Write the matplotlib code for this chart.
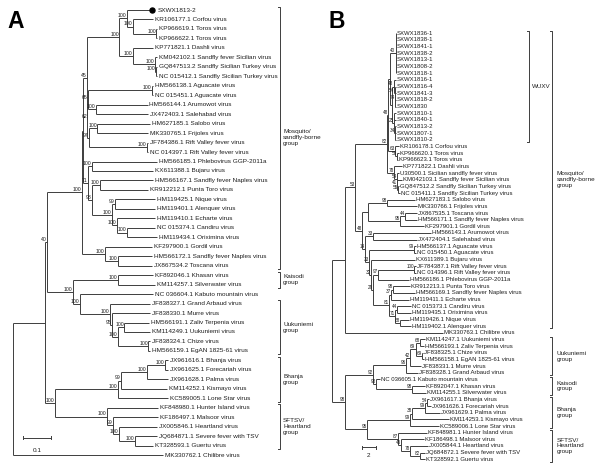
import matplotlib
matplotlib.use("Agg")
import matplotlib.pyplot as plt
from matplotlib.collections import LineCollection

plt.rcParams['font.family'] = ['Liberation Sans', 'DejaVu Sans']

# ----------------------------- Panel A data -----------------------------
A_leaves = [
    "SXWX1813-2", "KR106177.1 Corfou virus", "KP966619.1 Toros virus", "KP966622.1 Toros virus",
    "KP771821.1 Dashli virus", "KM042102.1 Sandfly fever Sicilian virus",
    "GQ847513.2 Sandfly Sicilian Turkey virus", "NC 015412.1 Sandfly Sicilian Turkey virus",
    "HM566138.1 Aguacate virus", "NC 015451.1 Aguacate virus", "HM566144.1 Arumowot virus",
    "JX472403.1 Salehabad virus", "HM627185.1 Salobo virus", "MK330765.1 Frijoles virus",
    "JF784386.1 Rift Valley fever virus", "NC 014397.1 Rift Valley fever virus",
    "HM566185.1 Phlebovirus GGP-2011a", "KX611388.1 Bujaru virus",
    "HM566167.1 Sandfly fever Naples virus", "KR912212.1 Punta Toro virus",
    "HM119425.1 Nique virus", "HM119401.1 Alenquer virus", "HM119410.1 Echarte virus",
    "NC 015374.1 Candiru virus", "HM119434.1 Oriximina virus", "KF297900.1 Gordil virus",
    "HM566172.1 Sandfly fever Naples virus", "JX867534.2 Toscana virus",
    "KF892046.1 Khasan virus", "KM114257.1 Silverwater virus", "NC 036604.1 Kabuto mountain virus",
    "JF838327.1 Grand Arbaud virus", "JF838330.1 Murre virus", "HM566191.1 Zaliv Terpenia virus",
    "KM114249.1 Uukuniemi virus", "JF838324.1 Chize virus", "HM566159.1 EgAN 1825-61 virus",
    "JX961616.1 Bhanja virus", "JX961625.1 Forecariah virus", "JX961628.1 Palma virus",
    "KM114252.1 Kismayo virus", "KC589005.1 Lone Star virus", "KF848980.1 Hunter Island virus",
    "KF186497.1 Malsoor virus", "JX005846.1 Heartland virus", "JQ684871.1 Severe fever with TSV",
    "KT328593.1 Guertu virus", "MK330762.1 Chilibre virus",
]
A_tip_depth = [
    0.489, 0.492, 0.508, 0.508, 0.492, 0.508, 0.508, 0.508, 0.494, 0.494,
    0.473, 0.475, 0.482, 0.475, 0.476, 0.476, 0.505, 0.492, 0.492, 0.475,
    0.499, 0.499, 0.499, 0.499, 0.505, 0.489, 0.489, 0.489, 0.492, 0.499,
    0.492, 0.482, 0.482, 0.478, 0.482, 0.482, 0.482, 0.545, 0.545, 0.545,
    0.541, 0.545, 0.510, 0.510, 0.506, 0.506, 0.492, 0.527,
]
# internal node = (depth, bootstrap, [children]); int = leaf index
A_tree = (0.0, "", [
    (0.113, "", [
        (0.119, "40", [
            (0.242, "100", [
                (0.248, "", [
                    (0.260, "45", [
                        (0.374, "100", [
                            (0.400, "100", [0, (0.421, "100", [1, (0.503, "100", [2, 3])])]),
                            (0.421, "100", [4, (0.499, "100", [5, (0.502, "100", [6, 7])])]),
                        ]),
                        (0.262, "62", [
                            (0.264, "65", [(0.488, "100", [8, 9]), (0.292, "100", [10, 11])]),
                            (0.266, "97", [(0.296, "100", [12, 13]), (0.470, "100", [14, 15])]),
                        ]),
                    ]),
                    (0.264, "71", [
                        (0.277, "100", [16, 17]),
                        (0.278, "98", [
                            (0.306, "100", [18, 19]),
                            (0.348, "100", [(0.359, "99", [20, 21]),
                                            (0.365, "100", [22, (0.400, "100", [23, 24])])]),
                        ]),
                    ]),
                ]),
                (0.324, "100", [25, (0.369, "100", [26, 27])]),
            ]),
            (0.211, "100", [
                (0.369, "100", [28, 29]),
                (0.236, "100", [30, (0.341, "100", [31, (0.348, "95", [32, (0.369, "100", [
                    (0.391, "100", [33, 34]), (0.475, "100", [35, 36])])])])]),
            ]),
        ]),
        (0.148, "100", [
            (0.369, "100", [(0.379, "99", [(0.471, "100", [(0.534, "100", [37, 38]), 39]), 40]), 41]),
            (0.331, "100", [42, (0.352, "99", [43, (0.373, "100", [44, (0.429, "100", [45, 46])])])]),
        ]),
    ]),
    47,
])
A_groups = [("Mosquito/\nsandfly-borne\ngroup", 0, 27), ("Kaisodi\ngroup", 28, 29),
            ("Uukuniemi\ngroup", 31, 36), ("Bhanja\ngroup", 37, 41),
            ("SFTSV/\nHeartland\ngroup", 42, 46)]
A_marked = [0]
A_scale = 0.1

# ----------------------------- Panel B data -----------------------------
B_leaves = [
    "SXWX1836-1", "SXWX1838-1", "SXWX1841-1", "SXWX1838-2", "SXWX1813-1", "SXWX1808-2",
    "SXWX1818-1", "SXWX1816-1", "SXWX1816-4", "SXWX1841-3", "SXWX1818-2", "SXWX1830",
    "SXWX1810-1", "SXWX1840-1", "SXWX1813-2", "SXWX1807-1", "SXWX1810-2",
    "KR106178.1 Corfou virus", "KP966620.1 Toros virus", "KP966623.1 Toros virus",
    "KP771822.1 Dashli virus", "U30500.1 Sicilian sandfly fever virus",
    "KM042103.1 Sandfly fever Sicilian virus", "GQ847512.2 Sandfly Sicilian Turkey virus",
    "NC 015411.1 Sandfly Sicilian Turkey virus", "HM627183.1 Salobo virus",
    "MK330766.1 Frijoles virus", "JX867535.1 Toscana virus",
    "HM566171.1 Sandfly fever Naples virus", "KF297901.1 Gordil virus",
    "HM566143.1 Arumowot virus", "JX472404.1 Salehabad virus", "HM566137.1 Aguacate virus",
    "NC 015450.1 Aguacate virus", "KX611389.1 Bujaru virus", "JF784387.1 Rift Valley fever virus",
    "NC 014396.1 Rift Valley fever virus", "HM566186.1 Phlebovirus GGP-2011a",
    "KR912213.1 Punta Toro virus", "HM566169.1 Sandfly fever Naples virus",
    "HM119411.1 Echarte virus", "NC 015373.1 Candiru virus", "HM119435.1 Oriximina virus",
    "HM119426.1 Nique virus", "HM119402.1 Alenquer virus", "MK330763.1 Chilibre virus",
    "KM114247.1 Uukuniemi virus", "HM566193.1 Zaliv Terpenia virus", "JF838325.1 Chize virus",
    "HM566158.1 EgAN 1825-61 virus", "JF838331.1 Murre virus", "JF838328.1 Grand Arbaud virus",
    "NC 036605.1 Kabuto mountain virus", "KF892047.1 Khasan virus",
    "KM114255.1 Silverwater virus", "JX961617.1 Bhanja virus", "JX961626.1 Forecariah virus",
    "JX961629.1 Palma virus", "KM114253.1 Kismayo virus", "KC589006.1 Lone Star virus",
    "KF848981.1 Hunter Island virus", "KF186498.1 Malsoor virus", "JX005844.1 Heartland virus",
    "JQ684872.1 Severe fever with TSV", "KT328592.1 Guertu virus",
]
B_tip_depth = [
    8.97, 8.97, 8.97, 8.97, 8.97, 8.97, 8.97, 8.97, 8.97, 8.97, 8.97, 8.97, 8.97, 8.97,
    8.97, 8.97, 8.97, 9.39, 9.32, 9.18, 9.80, 9.39, 9.80, 9.32, 9.46,
    11.62, 11.90, 11.90, 11.90, 12.87, 13.85, 11.90, 11.76, 11.76, 11.62,
    11.69, 11.69, 10.78, 10.92, 11.62, 10.78, 11.06, 11.06, 10.78, 11.06,
    15.52, 13.01, 12.87, 12.73, 12.87, 12.46, 12.04, 6.74, 13.01, 13.15,
    13.57, 13.85, 15.10, 16.36, 14.96, 13.29, 12.87, 13.43, 13.01, 13.01,
]
B_tree = (0.0, "", [
    (1.85, "", [
        (3.25, "53", [
            (7.71, "82", [
                (7.85, "48", [
                    (8.13, "", [
                        (8.90, "40", [0, 1, 2, 3, 4, 5, 6]),
                        (8.41, "", [
                            (8.62, "48", [7, (8.76, "54", [8, (8.83, "74", [9, 10, 11])])]),
                            (8.69, "25", [12, 13, (8.83, "34", [14, 15, 16])]),
                        ]),
                    ]),
                    (8.83, "63", [17, (9.11, "56", [18, 19])]),
                ]),
                (8.69, "78", [20, (9.11, "54", [21, (9.15, "41", [22, (9.25, "55", [23, 24])])])]),
            ]),
            (4.23, "48", [
                (5.06, "", [(7.71, "98", [25, 26]),
                            (9.53, "95", [(10.22, "44", [27, 28]), 29])]),
                (4.64, "14", [
                    (5.76, "33", [30, 31]),
                    (5.20, "33", [
                        (11.48, "99", [32, 33]),
                        (5.48, "32", [
                            34,
                            (5.76, "29", [
                                (6.46, "97", [(11.48, "100", [35, 36]), 37]),
                                (7.99, "81", [
                                    (8.27, "37", [(8.55, "98", [38, 39]), 40]),
                                    (8.83, "71", [(9.11, "44", [41, 42]), (9.53, "68", [43, 44])]),
                                ]),
                            ]),
                        ]),
                    ]),
                ]),
            ]),
        ]),
        45,
    ]),
    (1.85, "98", [
        (5.76, "92", [
            (10.36, "96", [(10.92, "42", [(11.72, "69", [(12.32, "68", [46, 47]),
                                                       (12.59, "69", [48, 49])]), 50]), 51]),
            (6.18, "98", [52, (11.20, "98", [53, 54])]),
        ]),
        (4.92, "95", [
            (10.92, "99", [(11.20, "38", [(13.01, "99", [(13.29, "54", [55, 56]), 57]), 58]), 59]),
            (9.25, "87", [60, (9.67, "45", [61, (10.92, "78", [62, (12.32, "82", [63, 64])])])]),
        ]),
    ]),
])
B_groups = [("Mosquito/\nsandfly-borne\ngroup", 0, 44), ("Uukuniemi\ngroup", 46, 51),
            ("Kaisodi\ngroup", 52, 54), ("Bhanja\ngroup", 55, 59),
            ("SFTSV/\nHeartland\ngroup", 60, 64)]
B_sub_groups = [("WUXV", 0, 16)]
B_scale = 2

# ----------------------------- drawing -----------------------------
LINE = '#3d3d3d'
TXT = '#1e1e1e'
W, H = 600, 465

fig = plt.figure(figsize=(6, 4.65), dpi=100)


def make_axes(x0, ppu, y0, dy):
    ax = fig.add_axes([0, 0, 1, 1])
    ax.set_facecolor('none')
    ax.axis('off')
    ax.set_xlim(-x0 / ppu, (W - x0) / ppu)
    ax.set_ylim((H - y0) / dy, -y0 / dy)
    return ax


def layout(node, tips, segs, labels):
    if isinstance(node, int):
        return tips[node], float(node)
    depth, sup, kids = node
    ys = []
    for k in kids:
        kd, ky = layout(k, tips, segs, labels)
        segs.append([(depth, ky), (kd, ky)])
        ys.append(ky)
    y = (ys[0] + ys[-1]) / 2.0
    segs.append([(depth, ys[0]), (depth, ys[-1])])
    if sup:
        labels.append((depth, y, sup))
    return depth, y


def draw_tree(ax, tree, names, tips, leaf_fs, sup_fs, txt_off, marked=()):
    segs, labels = [], []
    layout(tree, tips, segs, labels)
    ax.add_collection(LineCollection(segs, colors=LINE, linewidths=0.7))
    for i, (nm, d) in enumerate(zip(names, tips)):
        off = txt_off
        if i in marked:
            ax.plot([d], [i], 'o', color='black', ms=3.6, zorder=3)
            off = txt_off + 3.0
        ax.annotate(nm, xy=(d, i), xytext=(off, 0), textcoords='offset points',
                    ha='left', va='center', fontsize=leaf_fs, color=TXT)
    for d, y, s in labels:
        ax.annotate(s, xy=(d, y), xytext=(-0.2, 0.1), textcoords='offset points',
                    ha='right', va='bottom', fontsize=sup_fs, color=TXT)


def bracket(ax, x, i0, i1, pad, tick, text, tx, fs, ls=1.25):
    y0, y1 = i0 - pad, i1 + pad
    ax.plot([x - tick, x, x, x - tick], [y0, y0, y1, y1], color=LINE, lw=0.7)
    ax.text(tx, (y0 + y1) / 2.0, text, ha='left', va='center', fontsize=fs,
            color=TXT, linespacing=ls)


# ---- Panel A ----
A_x0, A_ppu, A_y0, A_dy = 12.7, 285.0, 10.0, 9.47
axA = make_axes(A_x0, A_ppu, A_y0, A_dy)
draw_tree(axA, A_tree, A_leaves, A_tip_depth, 4.6, 3.7, 1.4, marked=A_marked)
for txt, i0, i1 in A_groups:
    bracket(axA, (280 - A_x0) / A_ppu, i0, i1, 0.35, 2 / A_ppu, txt,
            (283 - A_x0) / A_ppu, 4.6)
sbx = (22.7 - A_x0) / A_ppu
sby = (437.7 - A_y0) / A_dy
axA.plot([sbx, sbx + A_scale], [sby, sby], color=LINE, lw=0.7)
for xx in (sbx, sbx + A_scale):
    axA.plot([xx, xx], [sby - 0.15, sby + 0.15], color=LINE, lw=0.7)
axA.text(sbx + A_scale / 2, sby + 1.35, f"{A_scale}", ha='center', va='center',
         fontsize=4.6, color=TXT)

# ---- Panel B ----
B_x0, B_ppu, B_y0, B_dy = 331.7, 7.17, 33.3, 6.656
axB = make_axes(B_x0, B_ppu, B_y0, B_dy)
draw_tree(axB, B_tree, B_leaves, B_tip_depth, 4.3, 3.3, 0.8)
for txt, i0, i1 in B_sub_groups:
    bracket(axB, (529.3 - B_x0) / B_ppu, i0, i1, 0.3, 2 / B_ppu, txt,
            (531.7 - B_x0) / B_ppu, 4.5)
for txt, i0, i1 in B_groups:
    bracket(axB, (552.3 - B_x0) / B_ppu, i0, i1, 0.35, 2 / B_ppu, txt,
            (556.7 - B_x0) / B_ppu, 4.6, ls=1.2)
sbx = (361.7 - B_x0) / B_ppu
sby = (447.3 - B_y0) / B_dy
axB.plot([sbx, sbx + B_scale], [sby, sby], color=LINE, lw=0.7)
for xx in (sbx, sbx + B_scale):
    axB.plot([xx, xx], [sby - 0.2, sby + 0.2], color=LINE, lw=0.7)
axB.text(sbx + B_scale / 2, sby + 1.3, f"{B_scale}", ha='center', va='center',
         fontsize=4.6, color=TXT)

# panel letters
fig.text(7 / W, 1 - 28.3 / H, "A", fontsize=16.5, fontweight='bold', va='baseline', ha='left')
fig.text(328 / W, 1 - 28.3 / H, "B", fontsize=16.5, fontweight='bold', va='baseline', ha='left')

fig.savefig("out.png", dpi=100, facecolor='white')
